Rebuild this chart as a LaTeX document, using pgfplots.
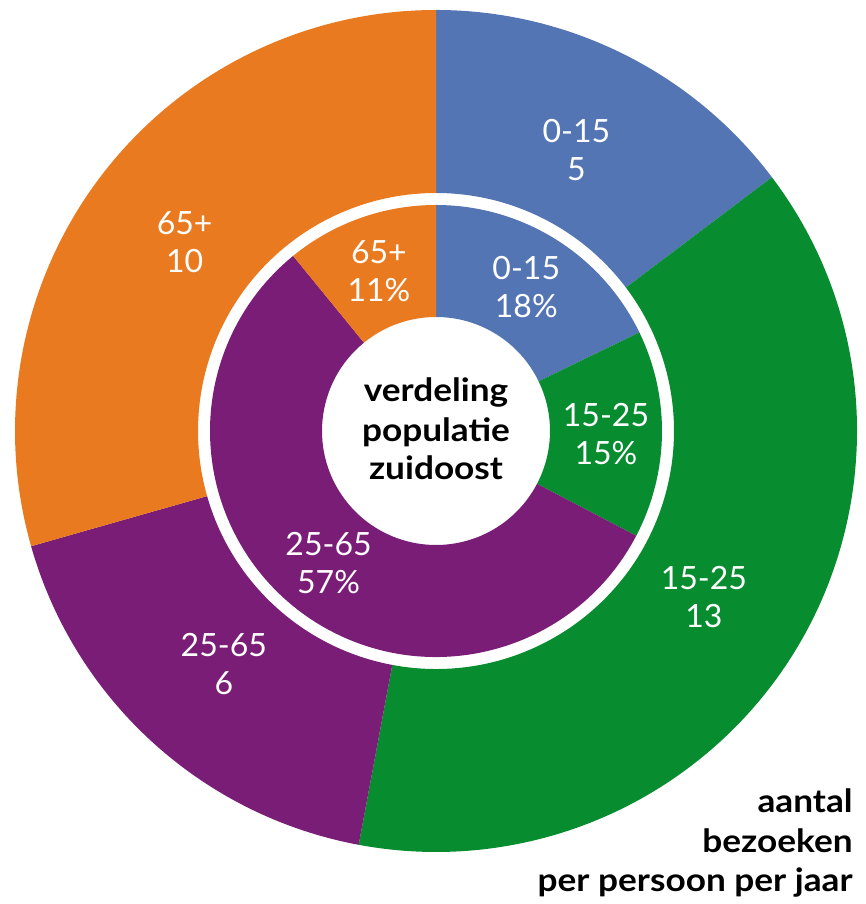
\documentclass[border=0pt]{standalone}
\usepackage{pgfplots}
\usepackage{pgfplotstable}
\pgfplotsset{compat=1.18}
\usepackage{fontspec}
\setmainfont{Lato}
\newfontfamily\capfont{Lato}[FakeStretch=1.1]
\definecolor{cBlue}{RGB}{84,117,180}
\definecolor{cGreen}{RGB}{8,140,48}
\definecolor{cPurple}{RGB}{122,29,118}
\definecolor{cOrange}{RGB}{234,122,31}

% outer ring: aantal bezoeken per persoon per jaar
\pgfplotstableread[col sep=comma]{
group,value,color
0-15,5,cBlue
15-25,13,cGreen
25-65,6,cPurple
65+,10,cOrange
}\outertab
% inner ring: verdeling populatie zuidoost (%)
\pgfplotstableread[col sep=comma]{
group,value,color
0-15,18,cBlue
15-25,15,cGreen
25-65,57,cPurple
65+,11,cOrange
}\innertab

\newcommand\ringangles[2]{%
  \gdef\ringtot{0}%
  \pgfplotstableforeachcolumnelement{value}\of#1\as\cell{%
    \pgfmathparse{\ringtot+\cell}\xdef\ringtot{\pgfmathresult}}%
  \gdef\ringcum{0}%
  \pgfplotstableforeachcolumnelement{value}\of#1\as\cell{%
    \expandafter\xdef\csname #2V\pgfplotstablerow\endcsname{\cell}%
    \pgfmathparse{90-360*(\ringcum/\ringtot)}%
    \expandafter\xdef\csname #2S\pgfplotstablerow\endcsname{\pgfmathresult}%
    \pgfmathparse{\ringcum+\cell}\xdef\ringcum{\pgfmathresult}%
    \pgfmathparse{90-360*(\ringcum/\ringtot)}%
    \expandafter\xdef\csname #2E\pgfplotstablerow\endcsname{\pgfmathresult}%
    \pgfmathparse{(\csname #2S\pgfplotstablerow\endcsname+\csname #2E\pgfplotstablerow\endcsname)/2}%
    \expandafter\xdef\csname #2M\pgfplotstablerow\endcsname{\pgfmathresult}%
  }%
  \pgfplotstableforeachcolumnelement{group}\of#1\as\cell{%
    \expandafter\xdef\csname #2L\pgfplotstablerow\endcsname{\cell}}%
  \pgfplotstableforeachcolumnelement{color}\of#1\as\cell{%
    \expandafter\xdef\csname #2C\pgfplotstablerow\endcsname{\cell}}%
}
\ringangles{\outertab}{out}
\ringangles{\innertab}{inn}

% center of the rings in axis units (1 unit = 0.5pt)
\def\cx{436}
\def\cy{473}
% #1 start, #2 end, #3 inner r (units), #4 outer r (units), #5 inner r (pt), #6 outer r (pt), #7 colour
\newcommand\sector[7]{%
  \fill[#7] (axis cs:{\cx+#4*cos(#1)},{\cy+#4*sin(#1)}) arc[start angle=#1, end angle=#2, radius=#6]
    -- (axis cs:{\cx+#3*cos(#2)},{\cy+#3*sin(#2)}) arc[start angle=#2, end angle=#1, radius=#5] -- cycle;}
% #1 mid angle, #2 radius (units), #3 line 1, #4 line 2
\newcommand\ringlabel[4]{%
  \node[text=white, anchor=base, inner sep=0pt, font=\fontsize{16}{19.5}\selectfont]
    at (axis cs:{\cx+#2*cos(#1)},{\cy+#2*sin(#1)+7}) {#3};
  \node[text=white, anchor=base, inner sep=0pt, font=\fontsize{16}{19.5}\selectfont]
    at (axis cs:{\cx+#2*cos(#1)},{\cy+#2*sin(#1)-31}) {#4};}
\tikzset{captxt/.style={inner sep=0pt, font=\capfont\fontsize{16}{19.5}\selectfont\bfseries}}

\begin{document}
\begin{tikzpicture}
\begin{axis}[scale only axis, width=433pt, height=452pt,
  xmin=0, xmax=866, ymin=0, ymax=904, hide axis, clip=false]
\addplot[draw=none, forget plot] coordinates {(0,0) (866,904)};
\pgfplotsinvokeforeach{0,...,3}{%
  \edef\temp{\noexpand\sector{\csname outS#1\endcsname}{\csname outE#1\endcsname}{238}{421}{119pt}{210.5pt}{\csname outC#1\endcsname}}\temp
  \edef\temp{\noexpand\sector{\csname innS#1\endcsname}{\csname innE#1\endcsname}{114}{226}{57pt}{113pt}{\csname innC#1\endcsname}}\temp
}
\pgfplotsinvokeforeach{0,...,3}{%
  \edef\temp{\noexpand\ringlabel{\csname outM#1\endcsname}{315}{\csname outL#1\endcsname}{\csname outV#1\endcsname}}\temp
  \edef\temp{\noexpand\ringlabel{\csname innM#1\endcsname}{170}{\csname innL#1\endcsname}{\csname innV#1\endcsname\noexpand\%}}\temp
}
% centre text
\node[captxt, anchor=base] at (axis cs:436,502) {verdeling};
\node[captxt, anchor=base] at (axis cs:436,462) {populatie};
\node[captxt, anchor=base] at (axis cs:436,424) {zuidoost};
% caption of the outer ring
\node[captxt, anchor=base east] at (axis cs:853,91) {aantal};
\node[captxt, anchor=base east] at (axis cs:853,51) {bezoeken};
\node[captxt, anchor=base east] at (axis cs:853,12) {per persoon per jaar};
\end{axis}
\pgfresetboundingbox
\path[use as bounding box] (current axis.south west) rectangle (current axis.north east);
\end{tikzpicture}
\end{document}
